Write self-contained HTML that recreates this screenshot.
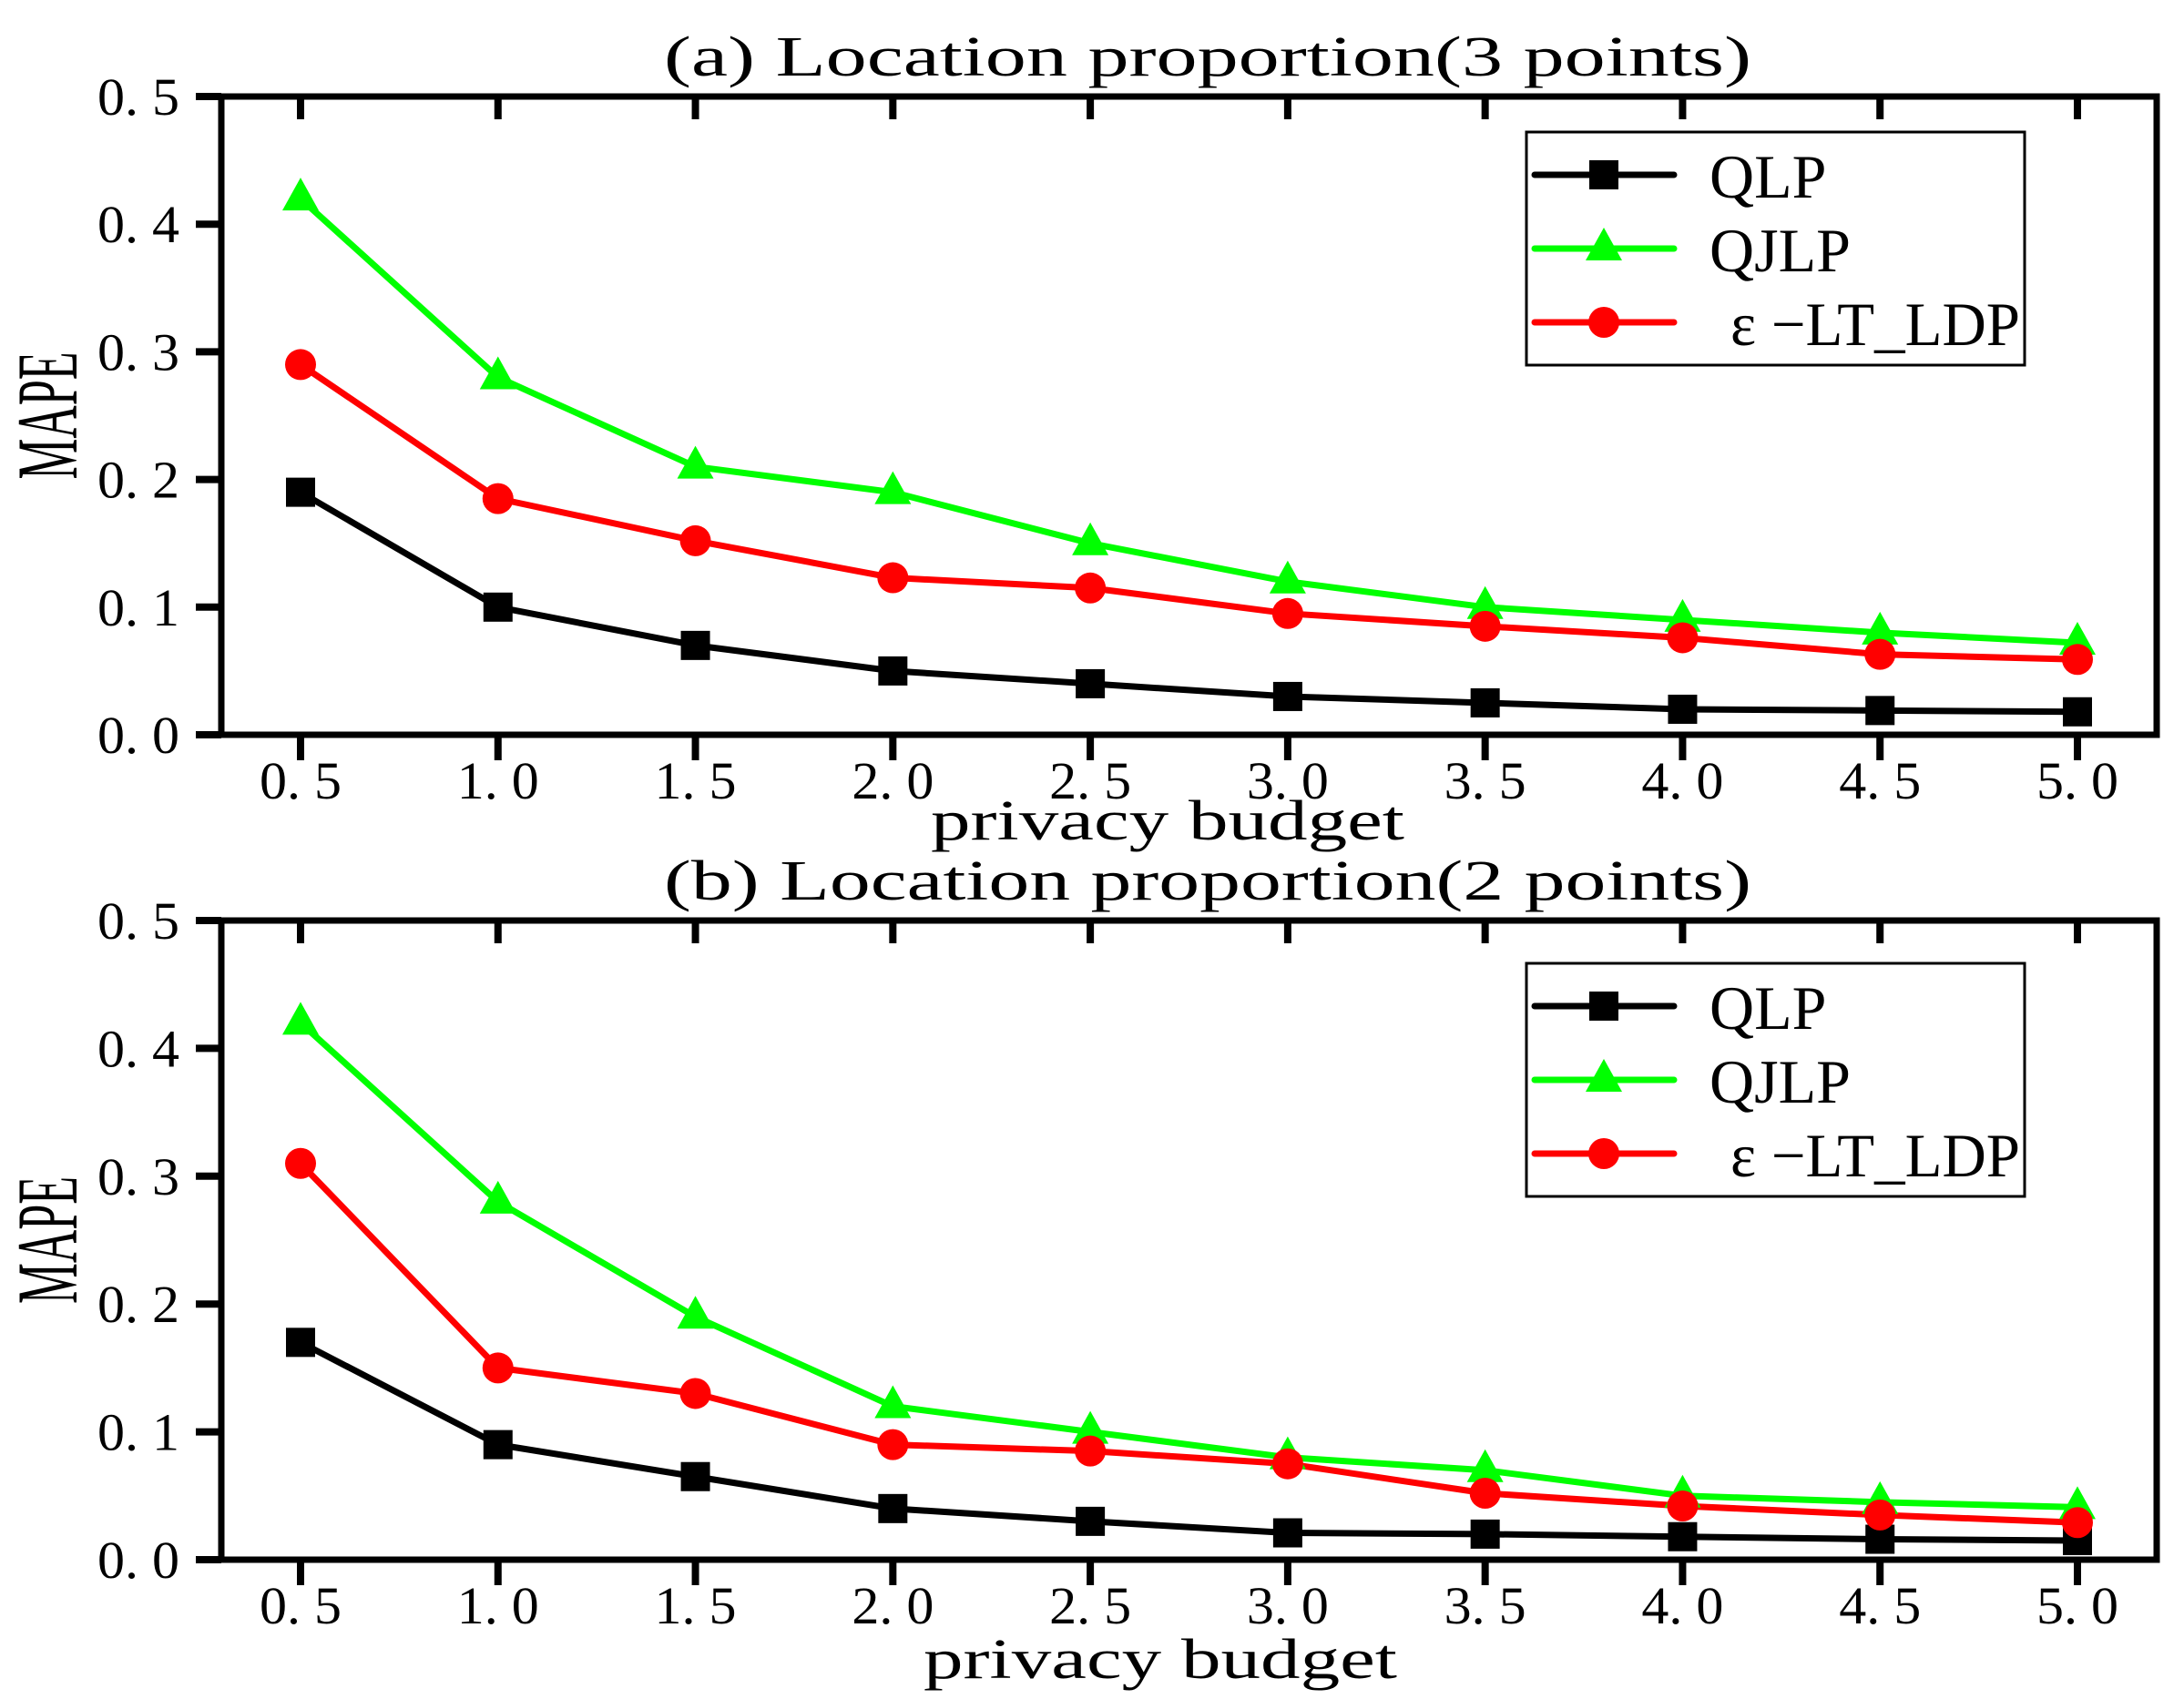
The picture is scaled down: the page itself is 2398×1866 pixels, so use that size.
<!DOCTYPE html>
<html><head><meta charset="utf-8"><style>
html,body{margin:0;padding:0;background:#fff;}
svg{display:block;}
text{font-family:"Liberation Serif","Noto Serif CJK SC",serif;fill:#000;}
</style></head><body>
<svg id="chart" width="2398" height="1866" viewBox="0 0 2398 1866" xmlns="http://www.w3.org/2000/svg"></svg>
<script>
const xCategories = [0.5,1.0,1.5,2.0,2.5,3.0,3.5,4.0,4.5,5.0];
const xTickLabels = ["0. 5","1. 0","1. 5","2. 0","2. 5","3. 0","3. 5","4. 0","4. 5","5. 0"];
const yTicks = [0,0.1,0.2,0.3,0.4,0.5];
const yTickLabels = ["0. 0","0. 1","0. 2","0. 3","0. 4","0. 5"];
const seriesNames = ["QLP","QJLP","\u03b5 \u2212LT_LDP"];
const aQLP  = [0.19,0.10,0.07,0.05,0.04,0.03,0.025,0.02,0.019,0.018];
const aQJLP = [0.42,0.28,0.21,0.19,0.15,0.12,0.10,0.09,0.08,0.072];
const aLT   = [0.29,0.185,0.152,0.123,0.115,0.095,0.085,0.076,0.063,0.059];
const bQLP  = [0.17,0.09,0.065,0.04,0.03,0.021,0.02,0.018,0.016,0.015];
const bQJLP = [0.42,0.28,0.19,0.12,0.10,0.08,0.07,0.05,0.045,0.041];
const bLT   = [0.31,0.15,0.13,0.09,0.085,0.075,0.052,0.042,0.035,0.029];

const NS="http://www.w3.org/2000/svg";
const svg=document.getElementById('chart');
function mk(tag,attrs,parent){const e=document.createElementNS(NS,tag);for(const k in attrs)e.setAttribute(k,attrs[k]);(parent||svg).appendChild(e);return e;}

const colors=["#000000","#00ff00","#ff0000"];
const markers=["square","triangle","circle"];

function marker(g,type,x,y,c){
  let m;
  if(type==="square"){m=mk('rect',{x:x-16,y:y-16,width:32,height:32,fill:c},g);}
  else if(type==="triangle"){m=mk('polygon',{points:`${x},${y-23} ${x+20},${y+13} ${x-20},${y+13}`,fill:c},g);}
  else {m=mk('ellipse',{cx:x,cy:y,rx:17,ry:17,fill:c},g);}
  return m;
}

function panel(id,top,bottom,title,titleY,xlabY,xlabX,series,legTop){
  const L=243,R=2368;
  const x0=330,dx=(2281-330)/9;
  const xs=v=>x0+(v-0.5)/0.5*dx;
  const ys=v=>bottom-(v/0.5)*(bottom-top);
  const g=mk('g',{});
  
  
  const t=mk('text',{x:1326,y:titleY,'font-size':62,'text-anchor':'middle',textLength:1194,lengthAdjust:'spacingAndGlyphs'},g);
  t.textContent=title;
  
  
  series.forEach((vals,si)=>{
    const sg=mk('g',{},g);
    
    
    const pts=vals.map((v,i)=>xs(xCategories[i])+','+ys(v)).join(' ');
    mk('polyline',{points:pts,fill:'none',stroke:colors[si],'stroke-width':7,'stroke-linejoin':'round'},sg);
  });
  series.forEach((vals,si)=>{
    vals.forEach((v,i)=>{
      const m=marker(g,markers[si],xs(xCategories[i]),ys(v),colors[si]);
      
      
    });
  });
  const fr=mk('rect',{x:L,y:top,width:R-L,height:bottom-top,fill:'none',stroke:'#000','stroke-width':7},g);
  
  
  xCategories.forEach((v,i)=>{
    const x=xs(v);
    mk('line',{x1:x,y1:top,x2:x,y2:top+25,stroke:'#000','stroke-width':8},g);
    mk('line',{x1:x,y1:bottom,x2:x,y2:bottom+28,stroke:'#000','stroke-width':8},g);
    const tl=mk('text',{x:x,y:bottom+70,'font-size':58,'text-anchor':'middle',textLength:90,lengthAdjust:'spacingAndGlyphs'},g);
    tl.textContent=xTickLabels[i];
    
    
  });
  yTicks.forEach((v,i)=>{
    const y=ys(v);
    mk('line',{x1:L-28,y1:y,x2:L,y2:y,stroke:'#000','stroke-width':8},g);
    const tl=mk('text',{x:197,y:y+20,'font-size':58,'text-anchor':'end',textLength:90,lengthAdjust:'spacingAndGlyphs'},g);
    tl.textContent=yTickLabels[i];
    
    
  });
  const xl=mk('text',{x:xlabX,y:xlabY,'font-size':62,'text-anchor':'middle',textLength:520,lengthAdjust:'spacingAndGlyphs'},g);
  xl.textContent='privacy budget';
  
  
  const cy=(top+bottom)/2;
  const yl=mk('text',{x:0,y:0,'font-size':66,'text-anchor':'middle',transform:`translate(84,${cy}) rotate(-90) scale(1,1.45)`,textLength:140,lengthAdjust:'spacingAndGlyphs'},g);
  yl.textContent='MAPE';
  
  
  const lg=mk('g',{},g);
  
  
  mk('rect',{x:1676,y:legTop,width:547,height:256,fill:'#fff',stroke:'#000','stroke-width':3},lg);
  seriesNames.forEach((n,si)=>{
    const ry=legTop+47+si*81;
    const e=mk('g',{},lg);
    
    
    mk('line',{x1:1685,y1:ry,x2:1838,y2:ry,stroke:colors[si],'stroke-width':7,'stroke-linecap':'round'},e);
    marker(e,markers[si],1761,ry,colors[si]);
    const tx=mk('text',{x:si===2?1900:1877,y:ry+25,'font-size':68},e);
    tx.textContent=n;
    if(si===2){tx.setAttribute('textLength',318);tx.setAttribute('lengthAdjust','spacingAndGlyphs');}
  });
}
panel('panel-a',106,807,'(a) Location proportion(3 points)',83,922,1282,[aQLP,aQJLP,aLT],145);
panel('panel-b',1011,1713,'(b) Location proportion(2 points)',988,1843,1274,[bQLP,bQJLP,bLT],1058);
</script>
</body></html>
